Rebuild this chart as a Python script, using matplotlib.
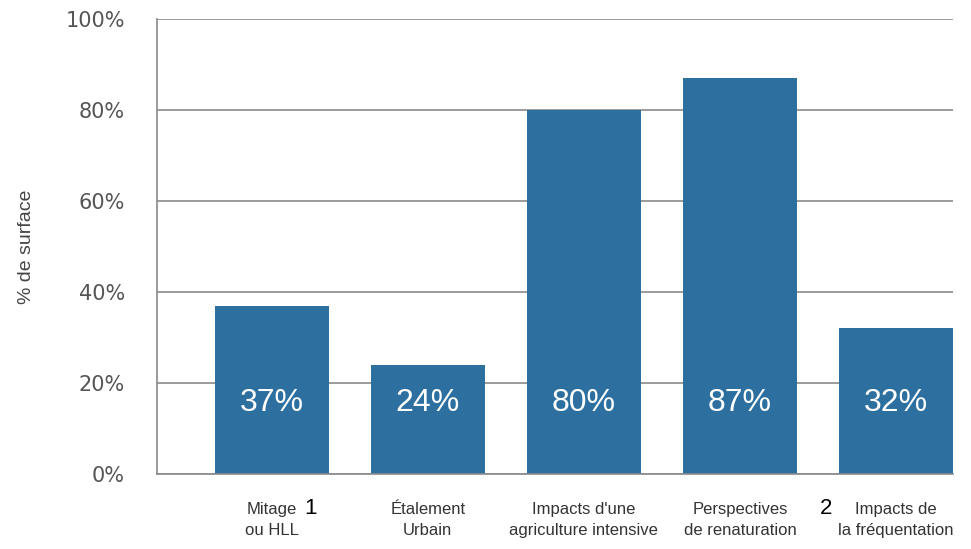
import matplotlib.pyplot as plt
import numpy as np

# data
categories = ["Mitage\nou HLL", "Étalement\nUrbain", "Impacts d'une\nagriculture intensive",
              "Perspectives\nde renaturation", "Impacts de\nla fréquentation"]
values = [37, 24, 80, 87, 32]
yticks = [0, 20, 40, 60, 80, 100]
notes = {0: ("1", 0.21), 3: ("2", 0.51)}

bar_color = "#2d70a0"
grid_color = "#8a8a8a"
sans = ["Liberation Sans", "DejaVu Sans"]

fig = plt.figure(figsize=(9.71, 5.49), dpi=100)
ax = fig.add_axes([0.1617, 0.1366, 0.8198, 0.8288])

x = np.arange(len(categories))
ax.bar(x, values, width=0.73, color=bar_color, zorder=2)

ax.set_xlim(-0.735, 4.365)
ax.set_ylim(0, 100)
ax.set_yticks(yticks)
ax.set_yticklabels([f"{t}%" for t in yticks], fontsize=15, color="#555555")
ax.yaxis.grid(True, color=grid_color, linewidth=1.2, zorder=0)
ax.set_axisbelow(True)
ax.tick_params(axis="y", length=0, pad=23)
ax.tick_params(axis="x", length=0, pad=20)

ax.set_xticks(x)
ax.set_xticklabels(categories, fontsize=12, color="#333333", family=sans,
                   linespacing=1.55)

for side in ["top", "right"]:
    ax.spines[side].set_visible(False)
for side in ["left", "bottom"]:
    ax.spines[side].set_color(grid_color)
    ax.spines[side].set_linewidth(1.2)

ax.set_ylabel("% de surface", fontsize=14, color="#444444", family=sans, labelpad=22)

# value labels inside bars
for xi, v in zip(x, values):
    ax.text(xi, 15.5, f"{v}%", color="white", fontsize=23, family=sans,
            ha="center", va="center")

# footnote numbers next to two of the labels
for i, (n, dx) in notes.items():
    ax.annotate(n, xy=(x[i] + dx, 0), xycoords="data", xytext=(0, -25),
                textcoords="offset points", ha="left", va="center",
                fontsize=16, color="black", family=sans, annotation_clip=False)

fig.savefig("out.png", dpi=100)
